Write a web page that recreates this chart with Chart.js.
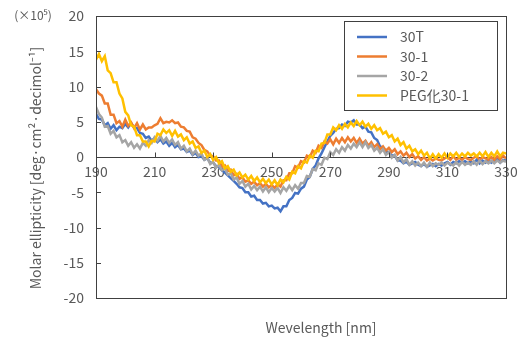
<!DOCTYPE html>
<html>
<head>
<meta charset="utf-8">
<script src="https://cdn.jsdelivr.net/npm/chart.js@4/dist/chart.umd.min.js"></script>
<style>
  html, body { margin: 0; padding: 0; background: #fff; }
</style>
</head>
<body>
<canvas id="cdChart" width="528" height="341"></canvas>
<script>
// CD spectra, one reading per nm from 190 to 330 nm (x 10^5)
const startNm = 190;
const endNm = 330;
const seriesNames = ['30T', '30-1', '30-2', 'PEG化30-1'];
const seriesColors = ['#4472C4', '#ED7D31', '#A5A5A5', '#FFC000'];

const s30T = [
  6.1, 5.4, 5.3, 4.5, 4.8, 4.0, 4.5, 3.8, 4.3, 4.1,
  4.7, 4.2, 4.8, 4.2, 4.1, 3.4, 3.3, 2.7, 2.9, 2.3,
  2.7, 2.1, 2.5, 1.9, 2.2, 1.6, 2.0, 1.4, 1.7, 1.1,
  1.2, 0.7, 0.9, 0.3, 0.6, 0.0, 0.1, -0.4, -0.2, -0.8,
  -0.8, -1.3, -1.4, -1.9, -2.2, -2.6, -3.0, -3.4, -3.8, -4.3,
  -4.4, -5.0, -5.0, -5.6, -5.5, -6.1, -6.1, -6.6, -6.5, -7.0,
  -6.9, -7.3, -7.2, -7.7, -7.0, -7.0, -6.1, -5.8, -5.1, -5.2,
  -4.5, -4.2, -3.2, -2.8, -1.7, -1.2, -0.2, 0.5, 1.4, 2.2,
  3.0, 3.4, 4.0, 4.1, 4.6, 4.4, 5.0, 4.9, 5.2, 4.6,
  4.6, 4.1, 4.3, 3.6, 3.5, 2.7, 2.4, 1.5, 1.3, 0.7,
  0.7, 0.2, 0.2, -0.5, -0.5, -0.9, -0.7, -1.1, -0.9, -0.7,
  -1.1, -1.3, -1.0, -1.4, -1.2, -1.0, -1.3, -1.0, -1.2, -0.9,
  -0.7, -1.1, -0.7, -0.9, -0.6, -0.8, -0.6, -0.9, -0.6, -0.9,
  -0.4, -0.9, -0.5, -0.8, -0.4, -0.8, -0.5, -0.3, -0.8, -0.4,
  -0.5
];

const s30_1 = [
  9.6, 9.0, 8.7, 7.6, 7.6, 6.0, 6.0, 4.8, 5.1, 4.3,
  5.3, 4.4, 4.9, 4.1, 4.8, 3.9, 4.6, 3.9, 4.2, 4.2,
  4.5, 4.7, 5.5, 4.8, 5.0, 4.9, 5.2, 4.8, 4.9, 4.3,
  4.2, 3.7, 3.6, 2.8, 2.6, 2.0, 1.7, 1.0, 0.8, 0.2,
  0.1, -0.5, -0.5, -1.4, -1.2, -2.0, -1.8, -2.6, -2.4, -3.1,
  -2.9, -3.5, -3.3, -3.8, -3.5, -4.0, -3.7, -4.2, -3.8, -4.3,
  -4.0, -4.4, -3.9, -4.2, -3.3, -3.3, -2.3, -2.3, -1.3, -1.5,
  -0.6, -0.8, 0.2, 0.0, 0.9, 0.6, 1.6, 1.3, 2.2, 1.9,
  2.5, 1.8, 2.6, 2.0, 2.7, 2.1, 2.8, 2.2, 2.7, 2.0,
  2.6, 1.9, 2.3, 1.6, 2.1, 1.4, 1.8, 1.1, 1.5, 0.9,
  1.3, 0.7, 1.1, 0.4, 0.8, 0.2, 0.6, 0.0, 0.4, -0.2,
  0.1, -0.4, 0.0, -0.5, -0.2, -0.5, -0.2, -0.4, -0.5, -0.2,
  0.0, -0.4, 0.1, -0.4, -0.1, -0.4, 0.0, -0.3, -0.4, -0.1,
  0.1, -0.4, 0.0, -0.2, -0.4, 0.0, -0.4, 0.1, -0.3, 0.2,
  -0.2
];

const s30_2 = [
  7.1, 6.1, 5.6, 4.3, 4.4, 3.3, 3.7, 2.8, 3.1, 2.1,
  2.4, 1.6, 2.1, 1.3, 1.8, 1.2, 2.0, 1.6, 2.4, 2.0,
  2.8, 2.3, 3.0, 2.2, 2.7, 2.0, 2.5, 1.7, 2.1, 1.2,
  1.6, 0.8, 1.2, 0.4, 0.9, 0.2, 0.5, -0.4, -0.1, -1.0,
  -0.7, -1.5, -1.1, -1.9, -1.6, -2.5, -2.3, -3.2, -2.9, -3.8,
  -3.4, -4.2, -3.8, -4.6, -4.1, -4.7, -4.2, -4.9, -4.3, -5.0,
  -4.4, -4.9, -4.4, -5.1, -4.3, -4.8, -4.1, -4.7, -4.0, -4.5,
  -3.7, -3.7, -2.7, -2.8, -1.7, -1.9, -0.9, -1.1, -0.1, -0.3,
  0.7, 0.3, 1.1, 0.6, 1.4, 0.9, 1.7, 1.2, 1.9, 1.4,
  2.1, 1.4, 2.1, 1.3, 1.7, 0.9, 1.3, 0.6, 1.1, 0.3,
  0.7, -0.1, 0.3, -0.5, 0.0, -0.8, -0.3, -1.1, -0.6, -1.2,
  -0.8, -1.3, -0.8, -1.4, -0.8, -1.3, -0.9, -1.1, -0.8, -1.2,
  -0.8, -1.0, -1.2, -0.7, -1.2, -0.7, -1.1, -0.8, -1.1, -0.6,
  -1.1, -0.5, -1.0, -0.6, -0.9, -0.5, -0.9, -0.5, -0.8, -0.5,
  -0.7
];

const sPeg30_1 = [
  13.8, 14.6, 13.6, 14.3, 12.3, 11.9, 10.6, 10.6, 9.0, 8.3,
  6.4, 5.9, 4.5, 4.3, 3.1, 3.1, 2.2, 2.2, 1.5, 2.3,
  2.2, 3.3, 3.1, 3.9, 3.4, 3.8, 3.0, 3.7, 2.9, 3.2,
  2.4, 2.8, 1.9, 2.2, 1.3, 1.5, 0.6, 0.9, 0.0, 0.4,
  -0.4, 0.0, -0.9, -0.6, -1.6, -1.3, -2.1, -1.8, -2.6, -2.2,
  -2.9, -2.5, -3.2, -2.7, -3.4, -2.9, -3.6, -3.1, -3.7, -3.2,
  -3.9, -3.3, -4.0, -3.2, -3.6, -2.8, -3.2, -2.1, -2.3, -1.3,
  -1.6, -0.6, -0.8, 0.2, -0.1, 0.9, 0.8, 1.9, 2.0, 3.2,
  3.2, 4.2, 3.8, 4.5, 4.0, 4.7, 4.2, 4.9, 4.4, 5.1,
  4.5, 5.0, 4.3, 4.7, 4.0, 4.5, 3.8, 4.1, 3.3, 3.6,
  2.8, 3.1, 2.2, 2.6, 1.7, 2.1, 1.2, 1.6, 0.8, 1.1,
  0.4, 0.9, 0.2, 0.6, -0.2, 0.4, -0.2, 0.4, -0.1, 0.5,
  -0.1, 0.5, 0.1, 0.6, 0.0, 0.5, 0.1, 0.6, 0.2, 0.5,
  0.1, 0.6, 0.1, 0.7, 0.0, 0.6, 0.1, 0.8, 0.1, 0.6,
  0.5
];

const xTicks = [190, 210, 230, 250, 270, 290, 310, 330];
const yTicks = [-20, -15, -10, -5, 0, 5, 10, 15, 20];

const allSeries = [s30T, s30_1, s30_2, sPeg30_1];

// wavelength grid, 1 nm steps
const wavelengths = [];
for (let nm = startNm; nm <= endNm; nm++) {
    wavelengths.push(nm);
}

const fontFamily = '"Noto Sans CJK JP", "Noto Sans", sans-serif';
const textColor = '#595959';
const frameColor = '#404040';

// frame, inward tick marks, legend and extra labels
const decorPlugin = {
    id: 'decor',
    afterDatasetsDraw(chart) {
        const ctx = chart.ctx;
        const area = chart.chartArea;
        const xs = chart.scales.x;
        const ys = chart.scales.y;
        ctx.save();
        ctx.strokeStyle = frameColor;
        ctx.lineWidth = 1;
        ctx.strokeRect(Math.round(area.left) + 0.5, Math.round(area.top) + 0.5,
            Math.round(area.width), Math.round(area.height));

        // small ticks pointing into the plot
        const y0 = Math.round(ys.getPixelForValue(0)) + 0.5;
        ctx.beginPath();
        xTicks.forEach(v => {
            const px = Math.round(xs.getPixelForValue(v)) + 0.5;
            ctx.moveTo(px, y0);
            ctx.lineTo(px, y0 - 5);
        });
        yTicks.forEach(v => {
            const py = Math.round(ys.getPixelForValue(v)) + 0.5;
            ctx.moveTo(Math.round(area.left), py);
            ctx.lineTo(Math.round(area.left) + 5, py);
        });
        ctx.stroke();
        ctx.restore();
    },
    afterDraw(chart) {
        const ctx = chart.ctx;
        ctx.save();

        // legend box
        const box = { x: 344, y: 21, w: 153, h: 89 };
        ctx.fillStyle = '#fff';
        ctx.fillRect(box.x, box.y, box.w, box.h);
        ctx.strokeStyle = frameColor;
        ctx.lineWidth = 1;
        ctx.strokeRect(box.x + 0.5, box.y + 0.5, box.w, box.h);
        ctx.font = '14px ' + fontFamily;
        ctx.textBaseline = 'middle';
        ctx.textAlign = 'left';
        chart.data.datasets.forEach((ds, i) => {
            const rowY = 37 + i * 19.5;
            ctx.strokeStyle = ds.borderColor;
            ctx.lineWidth = 2.5;
            ctx.beginPath();
            ctx.moveTo(357, rowY);
            ctx.lineTo(387, rowY);
            ctx.stroke();
            ctx.fillStyle = textColor;
            ctx.fillText(ds.label, 400, rowY);
        });

        // axis titles
        ctx.fillStyle = textColor;
        ctx.textAlign = 'center';
        ctx.font = '14px ' + fontFamily;
        ctx.fillText('Wevelength [nm]', 321, 328);

        ctx.font = '12px ' + fontFamily;
        ctx.fillText('(×10⁵)', 33, 15);

        ctx.translate(36, 168);
        ctx.rotate(-Math.PI / 2);
        ctx.font = '14px ' + fontFamily;
        ctx.fillText('Molar ellipticity [deg·cm²·decimol⁻¹]', 0, 0);
        ctx.restore();
    }
};

const ctx = document.getElementById('cdChart').getContext('2d');
const cdChart = new Chart(ctx, {
    type: 'line',
    data: {
        datasets: seriesNames.map((name, i) => ({
            label: name,
            data: wavelengths.map((nm, k) => ({ x: nm, y: allSeries[i][k] })),
            borderColor: seriesColors[i],
            borderWidth: 2.5,
            pointRadius: 0,
            tension: 0,
            order: seriesNames.length - i
        }))
    },
    options: {
        responsive: false,
        animation: false,
        layout: { padding: { left: 0, top: 16, right: 22, bottom: 43 } },
        plugins: {
            legend: { display: false },
            tooltip: { enabled: false }
        },
        scales: {
            x: {
                type: 'linear',
                position: { y: 0 },
                min: startNm,
                max: endNm,
                afterBuildTicks: scale => {
                    scale.ticks = xTicks.map(v => ({ value: v }));
                },
                grid: { display: false, drawTicks: false },
                border: { display: true, color: frameColor, width: 1 },
                ticks: {
                    color: textColor,
                    padding: 6,
                    maxRotation: 0,
                    autoSkip: false,
                    font: { family: fontFamily, size: 14 }
                }
            },
            y: {
                min: -20,
                max: 20,
                afterBuildTicks: scale => {
                    scale.ticks = yTicks.map(v => ({ value: v }));
                },
                afterFit: scale => { scale.width = 96; },
                // tick marks themselves are hidden; tickLength only spaces the labels
                grid: { display: false, drawTicks: true, tickLength: 8 },
                border: { display: false },
                ticks: {
                    color: textColor,
                    padding: 4,
                    font: { family: fontFamily, size: 14 }
                }
            }
        }
    },
    plugins: [decorPlugin]
});
</script>
</body>
</html>
